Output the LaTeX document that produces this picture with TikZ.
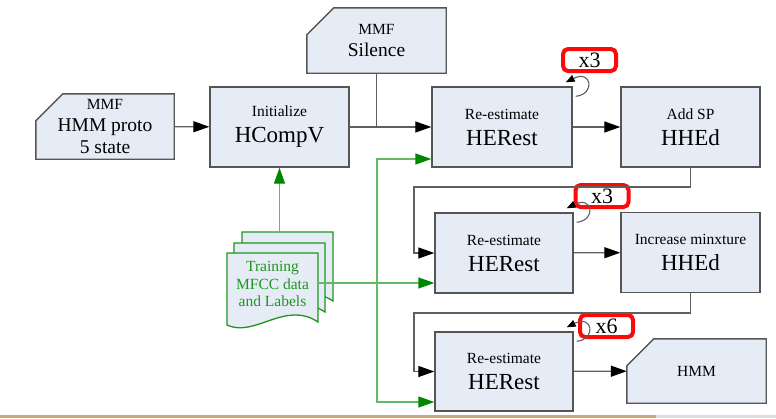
\documentclass[tikz,border=0pt]{standalone}
\usepackage{fontspec}
\setmainfont{Liberation Serif}
\usetikzlibrary{arrows.meta,backgrounds,calc}

\definecolor{boxfill}{RGB}{230,236,246}
\definecolor{boxline}{RGB}{85,85,85}
\definecolor{wireline}{RGB}{95,95,95}
\definecolor{datagreen}{RGB}{0,135,0}
\definecolor{dataline}{RGB}{100,185,100}
\definecolor{doctext}{RGB}{30,150,30}
\definecolor{loopred}{RGB}{250,10,10}
\definecolor{slidetan}{RGB}{200,170,120}
\definecolor{slidegray}{RGB}{222,222,222}

\newcommand{\lblfont}{\fontsize{15.5}{17.5}\selectfont}
\newcommand{\midfont}{\fontsize{19.5}{22}\selectfont}
\newcommand{\bigfont}{\fontsize{23}{26}\selectfont}

\tikzset{
  tool/.style={fill=boxfill, draw=boxline, line width=1.4pt, minimum width=139pt,
    minimum height=80pt, inner sep=0pt, align=center, font=\bigfont},
  card/.style={minimum width=139pt, minimum height=65pt, inner sep=0pt, align=center},
  cardline/.style={fill=boxfill, draw=boxline, line width=1.4pt},
  docline/.style={fill=boxfill, draw=doctext, line width=1.3pt},
  count/.style={draw=loopred, line width=4pt, rounded corners=5pt, minimum width=53pt,
    minimum height=22pt, inner sep=0pt, font=\fontsize{22}{24}\selectfont},
  line/.style={draw=wireline, line width=1.3pt},
  wire/.style={line, -{Triangle[length=16pt,width=11pt,color=black]}},
  feed/.style={draw=dataline, line width=1.4pt, -{Triangle[length=16pt,width=11pt,color=datagreen]}},
  loopback/.style={draw=wireline, line width=1.1pt, -{Triangle[length=9pt,width=7pt,color=black]}}
}

\begin{document}
\begin{tikzpicture}[x=1pt,y=-1pt]
  \useasboundingbox (0,0) rectangle (776,418);

  \node[card, minimum width=138pt, font=\midfont] (proto) at (105,126.5) {{\lblfont MMF}\\HMM proto\\5 state};
  \node[card, font=\midfont] (silence) at (376.5,40.5) {{\lblfont MMF}\\Silence};
  \node[card, minimum height=64pt, font=\lblfont] (hmm) at (696.5,371) {HMM};
  \node[card, minimum width=91pt, minimum height=60pt, font=\lblfont, text=doctext] (train) at (272.5,284) {Training\\MFCC data\\and Labels};

  \node[tool] (hcompv) at (279.5,127) {{\lblfont Initialize}\\HCompV};
  \node[tool, minimum width=140pt] (herestA) at (502,127) {{\lblfont Re-estimate}\\HERest};
  \node[tool] (hhedA) at (690.5,127) {{\lblfont Add SP}\\HHEd};
  \node[tool, minimum width=138pt] (herestB) at (504,253) {{\lblfont Re-estimate}\\HERest};
  \node[tool] (hhedB) at (690.5,252.5) {{\lblfont Increase minxture}\\HHEd};
  \node[tool, minimum width=138pt, minimum height=79pt] (herestC) at (504,371.5) {{\lblfont Re-estimate}\\HERest};

  \node[count] (repA) at (589.5,60) {x3};
  \node[count] (repB) at (602,196) {x3};
  \node[count] (repC) at (606.5,326) {x6};

  \begin{scope}[on background layer]
    \foreach \n in {proto,silence,hmm}
      \draw[cardline] ([xshift=27pt]\n.north west) -- (\n.north east) -- (\n.south east)
        -- (\n.south west) -- ([yshift=-27pt]\n.north west) -- cycle;
    \foreach \dx/\dy in {15/-21,7/-10,0/0}
      \draw[docline, shift={(\dx,\dy)}] (227,253) -- (318,253) -- (318,322)
        .. controls (285,300) and (255,338) .. (227,325) -- cycle;
  \end{scope}

  \draw[wire] (proto) -- (hcompv);
  \draw[wire] (hcompv) -- (herestA);
  \draw[line] (silence) -- (silence |- hcompv);
  \draw[wire] (herestA) -- (hhedA);
  \draw[wire] (herestB) -- (hhedB);
  \draw[wire] (herestC) -- (hmm);

  \coordinate (backA) at (414,187);
  \coordinate (backB) at (414,313);
  \draw[wire] (hhedA.south) |- (backA) |- (herestB.west);
  \draw[wire] (hhedB.south) |- (backB) |- (herestC.west);

  \coordinate (split) at (377,283);
  \draw[feed] ([shift={(7,-22)}]train.north) -- (hcompv.south);
  \draw[feed] ([yshift=1pt]train.east) -- ([yshift=1pt]train.east -| herestB.west);
  \draw[feed] (split) |- ([yshift=-32pt]herestA.west);
  \draw[feed] (split) |- ([yshift=-30.5pt]herestC.west);

  \foreach \b in {herestA,herestB,herestC}
    \draw[loopback] ([shift={(3,10)}]\b.north east) .. controls +(20,-2) and +(26,-13)
      .. ([shift={(-7,-4)}]\b.north east);

  \draw[slidetan, line width=3pt] (0,416.5) -- (656,416.5);
  \draw[slidegray, line width=3pt] (656,416.5) -- (776,416.5);
\end{tikzpicture}
\end{document}
